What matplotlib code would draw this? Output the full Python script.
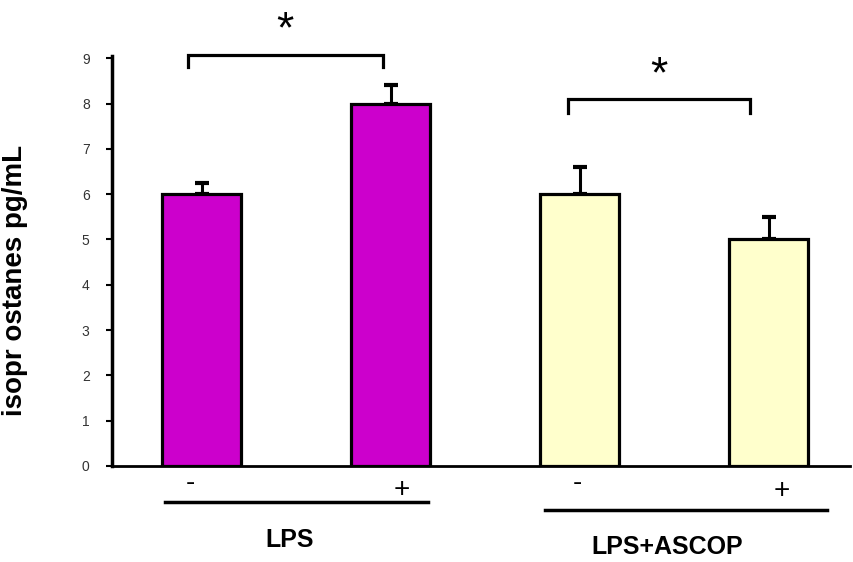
import matplotlib.pyplot as plt

#  ----------------- data
#
groups = ['LPS', 'LPS+ASCOP']
treat = ['-', '+', '-', '+']
means = [6.0, 8.0, 6.0, 5.0]
errs = [0.25, 0.4, 0.6, 0.5]
colors = ['#cc00cc', '#cc00cc', '#ffffcc', '#ffffcc']
yticks = list(range(0, 10))

plt.rcParams['font.family'] = ['Liberation Sans', 'DejaVu Sans']

fig = plt.figure(figsize=(8.54, 5.62), dpi=100)
ax = fig.add_axes([0.131, 0.171, 0.864, 0.806])

xs = list(range(len(means)))
ax.bar(xs, means, width=0.42, color=colors, edgecolor='black', linewidth=2.3, zorder=2)
ax.errorbar(xs, means, yerr=[[0] * len(errs), errs], fmt='none', ecolor='black',
            elinewidth=2.2, capsize=5, capthick=3, zorder=1)

ax.set_xlim(-0.476, 3.43)
ax.set_ylim(0, 10)
ax.set_yticks(yticks)
ax.set_xticks([])
ax.tick_params(axis='y', direction='out', length=4, width=1.5, labelsize=10, pad=12, labelcolor='#333333')
for s in ['top', 'right']:
    ax.spines[s].set_visible(False)
ax.spines['left'].set_linewidth(2.5)
ax.spines['left'].set_bounds(0, 9.05)
ax.spines['bottom'].set_linewidth(2)
ax.set_ylabel('isopr ostanes pg/mL', fontsize=20, fontweight='bold')
ax.yaxis.set_label_coords(-0.114, 0.41)

# significance brackets
def bracket(x0, x1, ytop, yfoot, ystar, xstar):
    ax.plot([x0, x0, x1, x1], [yfoot, ytop, ytop, yfoot], color='black', lw=2.3,
            clip_on=False, solid_joinstyle='miter')
    ax.text(xstar, ystar, '*', fontsize=32, ha='center', va='center', clip_on=False)

bracket(-0.074, 0.958, 9.07, 8.8, 9.6, 0.44)
bracket(1.937, 2.9, 8.1, 7.8, 8.6, 2.42)

# treatment signs and group labels under the axis
sign_x = [-0.06, 1.06, 1.99, 3.07]
sign_y = [-0.37, -0.53, -0.37, -0.55]
for x, y, t in zip(sign_x, sign_y, treat):
    ax.text(x, y, t, fontsize=20, ha='center', va='center', clip_on=False)

ax.plot([-0.196, 1.196], [-0.79, -0.79], color='black', lw=2.5, clip_on=False)
ax.plot([1.815, 3.31], [-0.97, -0.97], color='black', lw=2.5, clip_on=False)
ax.text(0.466, -1.63, groups[0], fontsize=18, fontweight='bold', ha='center', va='center', clip_on=False)
ax.text(2.465, -1.79, groups[1], fontsize=18, fontweight='bold', ha='center', va='center', clip_on=False)

fig.savefig('out.png', dpi=100)
